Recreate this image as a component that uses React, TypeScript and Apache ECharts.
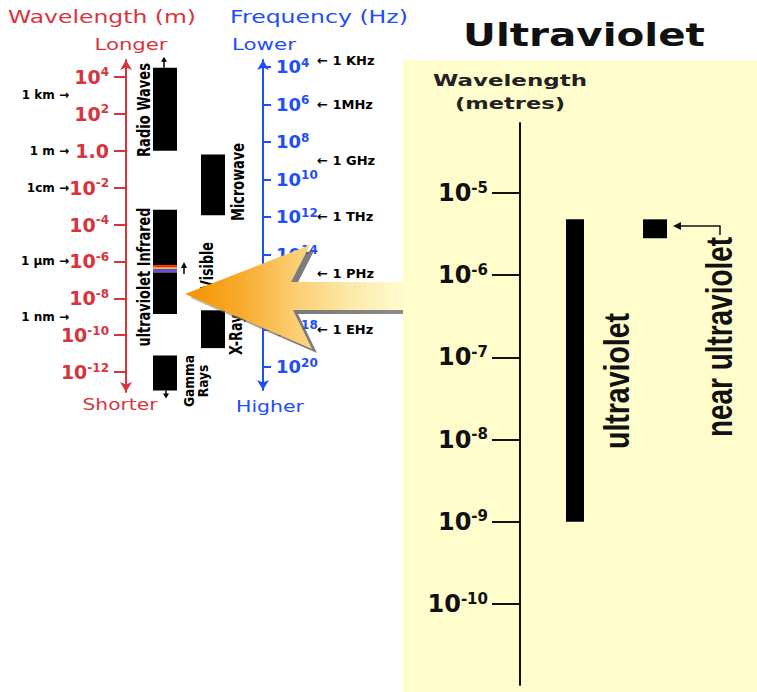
import React, { useEffect, useRef } from 'react';
import * as echarts from 'echarts';

// ---------------- data ----------------
const wavelengthTicks = [4, 2, 0, -2, -4, -6, -8, -10, -12];
const wavelengthMarks = [3, 0, -2, -6, -9];
const wavelengthMarkNames = ['1 km', '1 m', '1cm', '1 µm', '1 nm'];

const frequencyTicks = [4, 6, 8, 10, 12, 14, 16, 18, 20];
const frequencyMarks = [3.65, 6, 9, 12, 15, 18];
const frequencyMarkNames = ['1 KHz', '1MHz', '1 GHz', '1 THz', '1 PHz', '1 EHz'];

const bandNames = ['Radio Waves', 'Microwave', 'Infrared', 'Visible', 'Ultraviolet', 'X-Rays', 'Gamma Rays'];
const bandColumn = [0, 1, 0, 0, 0, 1, 0];
const bandLow = [0, -3.5, -6.2, -6.6, -8.85, -10.7, -13.0];
const bandHigh = [4.5, -0.2, -3.2, -6.2, -6.6, -8.65, -11.1];

const uvTicks = [-5, -6, -7, -8, -9, -10];
const uvNames = ['ultraviolet', 'near ultraviolet'];
const uvLow = [-9, -5.55];
const uvHigh = [-5.32, -5.32];

// ---------------- styles / layout ----------------
const RED = '#d8343d';
const BLUE = '#1d4dfc';
const INK = '#111111';
const PANEL = '#fffdcc';
const F = '"DejaVu Sans", sans-serif';
const FN = '"Liberation Sans", Arial, sans-serif';

const WL_RANGE = [-13.08, 4.92];
const FQ_RANGE = [3.63, 21.23];
const UV_RANGE = [-10.985, -4.148];

const LEFT_BAR_W = 24;
const UV_BAR_W = [18, 24];

const measureCtx = document.createElement('canvas').getContext('2d') as CanvasRenderingContext2D;

function txt(text: string, cx: number, cy: number, len: number, o: any) {
  const size = o.size;
  const weight = o.weight || 'normal';
  const family = o.family || F;
  measureCtx.font = `${weight} ${size}px ${family}`;
  const lines = text.split('\n');
  const m = Math.max(...lines.map((l) => measureCtx.measureText(l).width));
  return {
    type: 'text',
    x: cx,
    y: cy,
    rotation: o.rot ? Math.PI / 2 : 0,
    scaleX: len / m,
    scaleY: o.sy || 1,
    z: o.z ?? 5,
    silent: true,
    style: {
      text,
      fill: o.color || '#000',
      fontSize: size,
      fontWeight: weight,
      fontFamily: family,
      align: 'center',
      verticalAlign: 'middle',
      lineHeight: o.lh || Math.round(size * 1.1),
    },
  };
}

function expRich(color: string, big: number, small: number) {
  return {
    b: { fontFamily: F, fontWeight: 'bold', fontSize: big, color, lineHeight: big + 2 },
    s: { fontFamily: F, fontWeight: 'bold', fontSize: small, color, verticalAlign: 'top', lineHeight: small + 1 },
  };
}
const expFormatter = (v: number) => (v === 0 ? '{b|1.0}' : `{b|10}{s|${v}}`);

const ARROW = [[185, 294], [310, 245], [291, 282], [403, 282], [403, 310], [293, 310], [312, 349]];
const ARROW_SHADOW = [[190, 298], [315, 249], [296, 286], [403, 286], [403, 314], [298, 314], [317, 353]];

function buildOption() {
  const visibleFill = new echarts.graphic.LinearGradient(0, 0, 0, 1, [
    { offset: 0, color: '#ff1a1a' },
    { offset: 0.25, color: '#ff1a1a' },
    { offset: 0.32, color: '#ffa000' },
    { offset: 0.45, color: '#ffd000' },
    { offset: 0.55, color: '#3b5bff' },
    { offset: 0.75, color: '#3b5bff' },
    { offset: 0.82, color: '#9040d0' },
    { offset: 1, color: '#9040d0' },
  ]);

  const arrowFill = new echarts.graphic.LinearGradient(0, 0, 1, 0, [
    { offset: 0, color: '#f39200' },
    { offset: 0.25, color: '#f7aa2c' },
    { offset: 0.5, color: '#fbcd70' },
    { offset: 0.75, color: '#fde9a8' },
    { offset: 1, color: '#fffbd0' },
  ]);

  const shadowFill = new echarts.graphic.LinearGradient(0, 0, 1, 0, [
    { offset: 0, color: 'rgba(150,150,150,0.5)' },
    { offset: 0.5, color: 'rgba(90,90,90,0.8)' },
    { offset: 1, color: 'rgba(110,110,110,0.8)' },
  ]);

  const rotOpts = { size: 13, weight: 'bold', rot: true, sy: 1.3 };

  const texts = [
    txt('Wavelength (m)', 102, 17, 188, { size: 17, color: RED }),
    txt('Frequency (Hz)', 319, 17, 178, { size: 17, color: BLUE }),
    txt('Longer', 131, 44, 73, { size: 16, color: RED }),
    txt('Lower', 264, 44, 64, { size: 16, color: BLUE }),
    txt('Shorter', 120, 404, 75, { size: 16, color: RED }),
    txt('Higher', 270, 406, 68, { size: 16, color: BLUE }),
    txt('Radio Waves', 144, 110, 94, rotOpts),
    txt('ultraviolet Infrared', 144, 277, 139, rotOpts),
    txt('Microwave', 238, 182, 78, rotOpts),
    txt('Visible', 207, 266, 48, rotOpts),
    txt('X-Rays', 236, 331, 48, rotOpts),
    txt('Gamma\nRays', 196, 381, 52, { size: 13, weight: 'bold', rot: true, sy: 1.1, lh: 13 }),
    txt('Ultraviolet', 584, 35, 242, { size: 32, weight: 'bold', color: INK }),
    txt('Wavelength', 510, 81, 154, { size: 15, weight: 'bold', color: '#222' }),
    txt('(metres)', 510, 104, 110, { size: 15, weight: 'bold', color: '#222' }),
    txt('ultraviolet', 617, 381, 136, { size: 36, weight: 'bold', family: FN, rot: true, color: INK }),
    txt('near ultraviolet', 720, 337, 200, { size: 36, weight: 'bold', family: FN, rot: true, color: INK }),
  ];

  const graphic: any[] = [
    { type: 'rect', z: -10, silent: true, shape: { x: 403, y: 60, width: 354, height: 632 }, style: { fill: PANEL } },
    // visible pointer
    { type: 'polyline', z: 5, shape: { points: [[184, 274], [184, 266]] }, style: { stroke: '#000', lineWidth: 1.5 } },
    { type: 'polygon', z: 5, shape: { points: [[184, 262], [181, 268], [187, 268]] }, style: { fill: '#000' } },
    // near ultraviolet bracket
    { type: 'polyline', z: 5, shape: { points: [[679, 226], [720, 226], [720, 235]] }, style: { stroke: INK, lineWidth: 1.5 } },
    { type: 'polygon', z: 5, shape: { points: [[673, 226], [681, 222], [681, 230]] }, style: { fill: INK } },
    // big arrow and its shadow
    { type: 'polygon', z: 49, silent: true, shape: { points: ARROW_SHADOW }, style: { fill: shadowFill } },
    { type: 'polygon', z: 50, silent: true, shape: { points: ARROW }, style: { fill: arrowFill } },
    ...texts,
  ];

  const leftRender = (params: any, api: any) => {
    const col = api.value(0);
    const lo = api.value(1);
    const hi = api.value(2);
    const top = api.coord([col, hi]);
    const bot = api.coord([col, lo]);
    const name = bandNames[params.dataIndex];
    const cx = top[0];
    const children: any[] = [
      {
        type: 'rect',
        shape: { x: cx - LEFT_BAR_W / 2, y: top[1], width: LEFT_BAR_W, height: bot[1] - top[1] },
        style: { fill: name === 'Visible' ? visibleFill : '#000' },
      },
    ];
    if (name === 'Radio Waves') {
      children.push({ type: 'polyline', shape: { points: [[cx - 1, top[1]], [cx - 1, top[1] - 7]] }, style: { stroke: '#000', lineWidth: 1.5 } });
      children.push({ type: 'polygon', shape: { points: [[cx - 1, top[1] - 11], [cx - 4, top[1] - 6], [cx + 2, top[1] - 6]] }, style: { fill: '#000' } });
    }
    if (name === 'Gamma Rays') {
      children.push({ type: 'polyline', shape: { points: [[cx + 1, bot[1]], [cx + 1, bot[1] + 4]] }, style: { stroke: '#000', lineWidth: 1.5 } });
      children.push({ type: 'polygon', shape: { points: [[cx + 1, bot[1] + 8], [cx - 2, bot[1] + 3], [cx + 4, bot[1] + 3]] }, style: { fill: '#000' } });
    }
    return { type: 'group', children };
  };

  const uvRender = (params: any, api: any) => {
    const col = api.value(0);
    const top = api.coord([col, api.value(2)]);
    const bot = api.coord([col, api.value(1)]);
    const w = UV_BAR_W[params.dataIndex];
    return {
      type: 'rect',
      shape: { x: top[0] - w / 2, y: top[1], width: w, height: bot[1] - top[1] },
      style: { fill: '#000' },
    };
  };

  return {
    animation: false,
    backgroundColor: 'transparent',
    grid: [
      { left: 141, top: 60, width: 96, height: 332 },
      { left: 263, top: 60, width: 40, height: 330 },
      { left: 535, top: 123, width: 160, height: 562 },
    ],
    xAxis: [
      { gridIndex: 0, type: 'category', data: ['column 1', 'column 2'], show: false },
      { gridIndex: 1, type: 'category', data: ['frequency'], show: false },
      { gridIndex: 2, type: 'category', data: uvNames, show: false },
    ],
    yAxis: [
      {
        gridIndex: 0, type: 'value', position: 'left', offset: 15,
        min: WL_RANGE[0], max: WL_RANGE[1],
        axisLine: { show: true, onZero: false, lineStyle: { color: RED, width: 2 }, symbol: ['arrow', 'arrow'], symbolSize: [9, 10] },
        axisTick: { show: true, customValues: wavelengthTicks, length: 12, lineStyle: { color: RED, width: 2 } },
        axisLabel: { show: true, customValues: wavelengthTicks, margin: 17, hideOverlap: false, formatter: expFormatter, rich: expRich(RED, 19, 12) },
        splitLine: { show: false },
      },
      {
        gridIndex: 0, type: 'value', position: 'left', offset: 15,
        min: WL_RANGE[0], max: WL_RANGE[1],
        axisLine: { show: false }, axisTick: { show: false }, splitLine: { show: false },
        axisLabel: {
          show: true, customValues: wavelengthMarks, margin: 57, hideOverlap: false,
          color: '#000', fontFamily: F, fontWeight: 'bold', fontSize: 12,
          formatter: (v: number) => `${wavelengthMarkNames[wavelengthMarks.indexOf(v)]} →`,
        },
      },
      {
        gridIndex: 1, type: 'value', position: 'left', inverse: true,
        min: FQ_RANGE[0], max: FQ_RANGE[1],
        axisLine: { show: true, onZero: false, lineStyle: { color: BLUE, width: 2 }, symbol: ['arrow', 'arrow'], symbolSize: [9, 10] },
        axisTick: { show: true, inside: true, customValues: frequencyTicks, length: 8, lineStyle: { color: BLUE, width: 2 } },
        axisLabel: { show: true, inside: true, customValues: frequencyTicks, margin: 13, hideOverlap: false, formatter: expFormatter, rich: expRich(BLUE, 18, 12) },
        splitLine: { show: false },
      },
      {
        gridIndex: 1, type: 'value', position: 'right', inverse: true,
        min: FQ_RANGE[0], max: FQ_RANGE[1],
        axisLine: { show: false }, axisTick: { show: false }, splitLine: { show: false },
        axisLabel: {
          show: true, customValues: frequencyMarks, margin: 14, hideOverlap: false,
          color: '#000', fontFamily: F, fontWeight: 'bold', fontSize: 13,
          formatter: (v: number) => `← ${frequencyMarkNames[frequencyMarks.indexOf(v)]}`,
        },
      },
      {
        gridIndex: 2, type: 'value', position: 'left', offset: 15,
        min: UV_RANGE[0], max: UV_RANGE[1],
        axisLine: { show: true, onZero: false, lineStyle: { color: INK, width: 2 } },
        axisTick: { show: true, customValues: uvTicks, length: 28, lineStyle: { color: INK, width: 2 } },
        axisLabel: { show: true, customValues: uvTicks, margin: 32, hideOverlap: false, formatter: expFormatter, rich: expRich(INK, 24, 15) },
        splitLine: { show: false },
      },
    ],
    series: [
      {
        name: 'Electromagnetic spectrum',
        type: 'custom',
        xAxisIndex: 0,
        yAxisIndex: 0,
        clip: false,
        silent: true,
        encode: { x: 0, y: [1, 2] },
        data: bandNames.map((n, i) => ({ name: n, value: [bandColumn[i], bandLow[i], bandHigh[i]] })),
        renderItem: leftRender,
      },
      {
        name: 'Ultraviolet',
        type: 'custom',
        xAxisIndex: 2,
        yAxisIndex: 4,
        clip: false,
        silent: true,
        encode: { x: 0, y: [1, 2] },
        data: uvNames.map((n, i) => ({ name: n, value: [i, uvLow[i], uvHigh[i]] })),
        renderItem: uvRender,
      },
    ],
    graphic,
  };
}

export default function App() {
  const ref = useRef<HTMLDivElement>(null);
  useEffect(() => {
    const chart = echarts.init(ref.current as HTMLDivElement, null, { renderer: 'svg' });
    chart.setOption(buildOption() as any);
    return () => chart.dispose();
  }, []);
  return (
    <div
      ref={ref}
      style={{ position: 'fixed', left: 0, top: 0, width: 757, height: 692, background: '#ffffff' }}
    />
  );
}
